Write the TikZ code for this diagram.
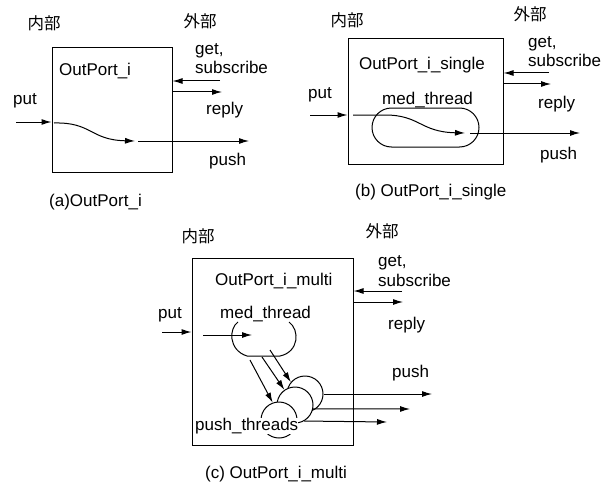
\documentclass[tikz,border=0pt]{standalone}
\usepackage{fontspec}
\setmainfont{Liberation Sans}
\newfontfamily\jpfont{Noto Sans CJK JP}
\usetikzlibrary{arrows.meta,shapes.misc}
\begin{document}
\begin{tikzpicture}[x=1pt,y=-1pt,
  lbl/.style={inner sep=0pt, anchor=base west, font=\fontsize{17}{20}\selectfont},
  jp/.style={inner sep=0pt, font=\jpfont\fontsize{16.5}{20}\selectfont},
  port/.style={draw, line width=1pt, inner sep=0pt},
  flow/.style={line width=1pt, -{Latex[length=10pt,width=6pt]}},
  wire/.style={line width=1pt},
  thread/.style={draw, line width=1pt, fill=white, circle, minimum size=36pt, inner sep=0pt}]
\useasboundingbox (0,0) rectangle (612,484);

% ---------------- (a) OutPort_i ----------------
\node[port, minimum width=120pt, minimum height=124pt] (boxA) at (112,110) {};
\node[jp] (inA) at (44,23) {内部};
\node[jp] (outA) at (200,21) {外部};
\node[lbl] (getA) at (195,55) {get,};
\node[lbl] (subA) at (195,74) {subscribe};
\node[lbl] (nameA) at (59,76) {OutPort\_i};
\node[lbl] (replyA) at (206,114) {reply};
\node[lbl] (putA) at (13,105) {put};
\node[lbl] (pushA) at (209,165) {push};
\node[lbl] (capA) at (49,206) {(a)OutPort\_i};

\coordinate (aGet) at (220,81);
\coordinate (aReply) at (222,92);
\coordinate (aPut) at (16,122);
\coordinate (aIn) at (54,123);
\coordinate (aMid) at (135,141);
\coordinate (aOut) at (138,141);
\coordinate (aPush) at (249,141);
\draw[flow] (aGet) -- (aGet -| boxA.east);
\draw[flow] (aReply -| boxA.east) -- (aReply);
\draw[flow] (aPut) -- (aPut -| boxA.west);
\draw[flow] (aIn) .. controls (92,122) and (90,140) .. (aMid);
\draw[flow] (aOut) -- (aPush);

% ---------------- (b) OutPort_i_single ----------------
\node[port, minimum width=155pt, minimum height=125pt] (boxB) at (425.5,101.5) {};
\node[jp] (inB) at (347,20) {内部};
\node[jp] (outB) at (530,14) {外部};
\node[lbl] (getB) at (528,48) {get,};
\node[lbl] (subB) at (528,67) {subscribe};
\node[lbl] (nameB) at (359,70) {OutPort\_i\_single};
\node[lbl] (replyB) at (538,109) {reply};
\node[lbl] (putB) at (308,99) {put};
\node[lbl] (medB) at (382,105) {med\_thread};
\node[lbl] (pushB) at (540,159) {push};
\node[lbl] (capB) at (355,196) {(b) OutPort\_i\_single};
\node[draw, line width=1pt, rounded rectangle, minimum width=107pt, minimum height=39pt, inner sep=0pt] (medShapeB) at (425.5,127.5) {};

\coordinate (bGet) at (549,73);
\coordinate (bReply) at (551,84);
\coordinate (bPut) at (310,115);
\coordinate (bIn) at (353,115);
\coordinate (bMid) at (465,133);
\coordinate (bOut) at (470,133);
\coordinate (bPush) at (580,133);
\draw[flow] (bGet) -- (bGet -| boxB.east);
\draw[flow] (bReply -| boxB.east) -- (bReply);
\draw[flow] (bPut) -- (bPut -| boxB.west);
\draw[flow] (bIn) -- (385,115) .. controls (420,115) and (420,132) .. (bMid);
\draw[flow] (bOut) -- (bPush);

% ---------------- (c) OutPort_i_multi ----------------
\node[port, minimum width=161pt, minimum height=187pt] (boxC) at (272.5,351.5) {};
\node[jp] (inC) at (198,236) {内部};
\node[jp] (outC) at (382,231) {外部};
\node[lbl] (getC) at (378,266) {get,};
\node[lbl] (subC) at (378,286) {subscribe};
\node[lbl] (nameC) at (215,285) {OutPort\_i\_multi};
\node[lbl] (replyC) at (388,329) {reply};
\node[lbl] (putC) at (158,318) {put};
\node[lbl] (medC) at (220,318) {med\_thread};
\node[lbl] (pushC) at (392,377) {push};
\node[lbl] (capC) at (205,478) {(c) OutPort\_i\_multi};

% med_thread, open at the top
\draw[wire] (238,322) .. controls (229,328) and (228,350) .. (247,356)
  -- (280,356) .. controls (299,352) and (300,330) .. (289,322);

% stacked push threads, back to front
\node[thread] (pt3) at (305,394) {};
\node[thread] (pt2) at (295,405) {};
\node[thread] (pt1) at (279,420) {};
\node[lbl, fill=white] (ptLabel) at (195,430) {push\_threads};

\coordinate (cGet) at (402,291);
\coordinate (cReply) at (403,302);
\coordinate (cPut) at (162,332);
\coordinate (cIn) at (203,335);
\coordinate (cMid) at (252,335);
\coordinate (m1) at (250,360);
\coordinate (m2) at (262,357);
\coordinate (m3) at (270,350);
\coordinate (p1) at (432,394);
\coordinate (p2) at (410,409);
\coordinate (p3) at (387,422);
\draw[flow] (cGet) -- (cGet -| boxC.east);
\draw[flow] (cReply -| boxC.east) -- (cReply);
\draw[flow] (cPut) -- (cPut -| boxC.west);
\draw[flow] (cIn) -- (cMid);
\draw[flow] (m1) -- (pt1.110);
\draw[flow] (m2) -- (pt2.125);
\draw[flow] (m3) -- (pt3.140);
\draw[flow] (pt3.east) -- (p1);
\draw[flow] (pt2.-12) -- (p2);
\draw[flow] (pt2.-60) -- (p3);
\end{tikzpicture}
\end{document}
